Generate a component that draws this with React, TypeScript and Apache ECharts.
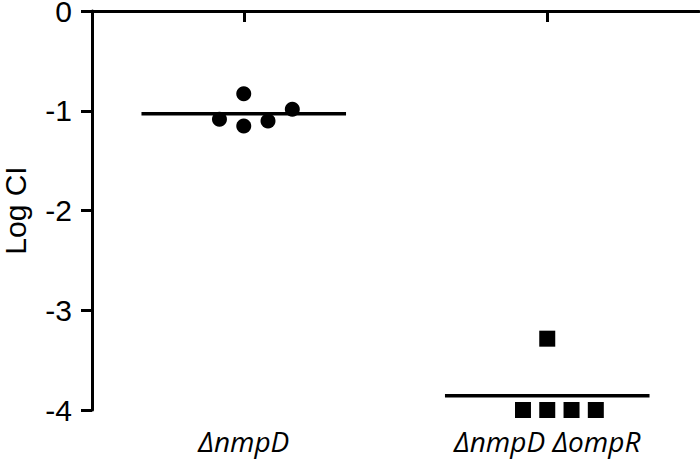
import React, { useEffect, useRef } from "react";
import * as echarts from "echarts";

// ---- data ----
const categories = ["ΔnmpD", "ΔnmpD ΔompR"];
const yTickValues = [0, -1, -2, -3, -4];
// Group 1 (circles)
const nmpDValues = [-1.086, -0.829, -1.153, -1.103, -0.985];
const nmpDJitterSlot = [-1, 0, 0, 1, 2];
// Group 2 (squares)
const nmpDompRValues = [-3.285, -4.0, -4.0, -4.0, -4.0];
const nmpDompRJitterSlot = [0, -1, 0, 1, 2];

const JITTER_STEP = 0.08; // in category-width units
const MEAN_HALF_WIDTH = 0.337;

const mean = (a: number[]) => a.reduce((s, v) => s + v, 0) / a.length;

export default function App() {
  const ref = useRef<HTMLDivElement>(null);
  useEffect(() => {
    if (!ref.current) return;
    const chart = echarts.init(ref.current, null, { renderer: "svg" });

    const pts = (vals: number[], slots: number[], ci: number) =>
      vals.map((v, i) => [ci + 0.5 + slots[i] * JITTER_STEP, v]);
    const meanLine = (vals: number[], ci: number) => {
      const m = mean(vals);
      return [
        [ci + 0.5 - MEAN_HALF_WIDTH, m],
        [ci + 0.5 + MEAN_HALF_WIDTH, m],
      ];
    };

    chart.setOption({
      animation: false,
      grid: {
        left: 92,
        right: 1,
        top: 11,
        bottom: 51,
        containLabel: false,
        outerBoundsMode: "none",
      },
      xAxis: [
        {
          type: "category",
          data: categories,
          boundaryGap: true,
          axisLine: { show: true, lineStyle: { color: "#000", width: 3 } },
          axisTick: { show: true, alignWithLabel: true, length: 11, lineStyle: { color: "#000", width: 3 } },
          axisLabel: {
            color: "#000",
            fontFamily: "Open Sans",
            fontStyle: "italic",
            fontSize: 28,
            margin: 17,
          },
          splitLine: { show: false },
        },
        {
          type: "value",
          min: 0,
          max: 2,
          show: false,
        },
      ],
      yAxis: {
        type: "value",
        min: -4,
        max: 0,
        interval: 1,
        name: "Log CI",
        nameLocation: "middle",
        nameRotate: 90,
        nameGap: 62,
        nameTextStyle: { color: "#000", fontFamily: "Liberation Sans", fontSize: 30 },
        axisLine: { show: true, lineStyle: { color: "#000", width: 3 } },
        axisTick: { show: true, length: 11, lineStyle: { color: "#000", width: 3 } },
        axisLabel: {
          color: "#000",
          fontFamily: "Liberation Sans",
          fontSize: 30,
          lineHeight: 22,
          margin: 20,
          formatter: (v: number) => (yTickValues.includes(v) ? String(v) : ""),
        },
        splitLine: { show: false },
      },
      series: [
        {
          type: "scatter",
          xAxisIndex: 1,
          data: pts(nmpDValues, nmpDJitterSlot, 0),
          symbol: "circle",
          symbolSize: 15,
          itemStyle: { color: "#000", opacity: 1 },
          clip: false,
          z: 3,
          markLine: {
            silent: true,
            symbol: ["none", "none"],
            label: { show: false },
            lineStyle: { color: "#000", type: [4, 2], width: 1.5, opacity: 1 },
            data: [{ yAxis: 0 }],
          },
        },
        {
          type: "scatter",
          xAxisIndex: 1,
          data: pts(nmpDompRValues, nmpDompRJitterSlot, 1),
          symbol: "rect",
          symbolSize: 16,
          itemStyle: { color: "#000", opacity: 1 },
          clip: false,
          z: 3,
        },
        {
          type: "line",
          xAxisIndex: 1,
          data: meanLine(nmpDValues, 0),
          symbol: "none",
          lineStyle: { color: "#000", width: 3.5 },
          z: 4,
        },
        {
          type: "line",
          xAxisIndex: 1,
          data: meanLine(nmpDompRValues, 1),
          symbol: "none",
          lineStyle: { color: "#000", width: 3.5 },
          z: 4,
        },
      ],
    });
    return () => chart.dispose();
  }, []);

  return (
    <div
      ref={ref}
      style={{ position: "fixed", left: 0, top: 0, width: 700, height: 461, background: "#fff" }}
    />
  );
}
